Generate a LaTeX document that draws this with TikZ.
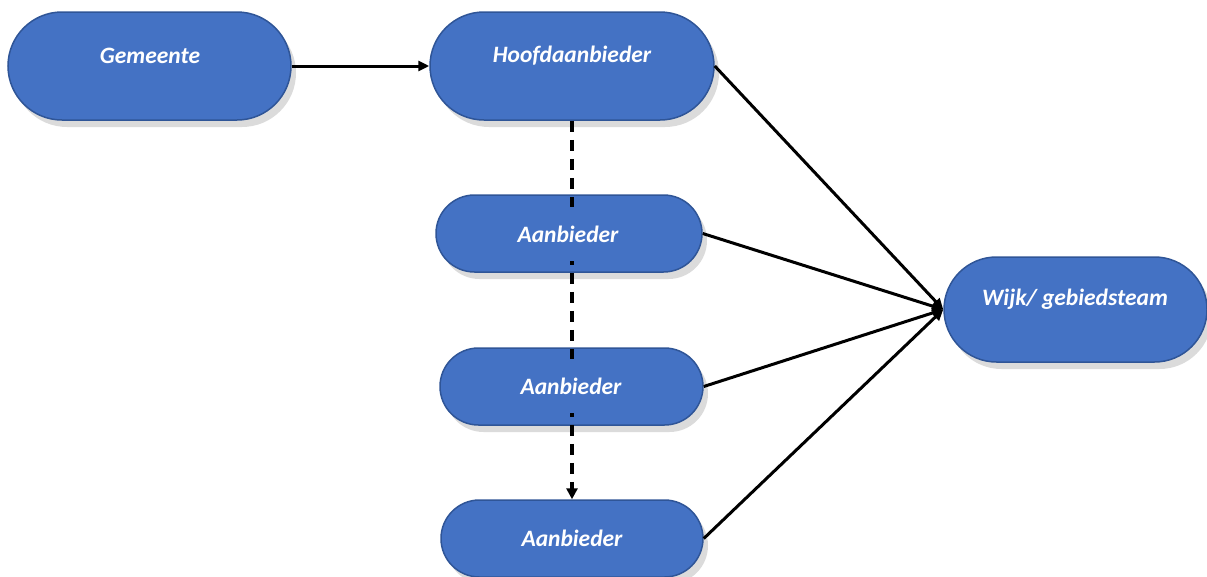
\documentclass[tikz,border=0pt]{standalone}
\usepackage{fontspec}
\setmainfont{Carlito}
\usetikzlibrary{arrows.meta,shadows}
\definecolor{nodeblue}{HTML}{4472C4}
\definecolor{edgeblue}{HTML}{2F5597}
\tikzset{
  pill/.style={rectangle, fill=nodeblue, draw=edgeblue, line width=1.5pt, inner sep=0pt,
    drop shadow={shadow xshift=5pt, shadow yshift=-7pt, fill=black, opacity=0.14}},
  lbl/.style={font=\fontsize{23.5}{28}\selectfont\bfseries\itshape, text=white, fill=nodeblue,
    inner sep=0pt, minimum width=170pt, minimum height=54pt},
  conn/.style={line width=3pt, -{Triangle[length=11pt,width=10pt]}},
  dconn/.style={line width=3.3pt, dash pattern=on 11pt off 8pt, -{Triangle[length=11pt,width=11pt]}}
}
\begin{document}
\begin{tikzpicture}[x=1pt,y=-1pt]
\useasboundingbox (0,0) rectangle (1207,576);
% shapes
\node[pill, minimum width=283pt, minimum height=108pt, rounded corners=54pt] (g) at (149.5,66) {};
\node[pill, minimum width=284pt, minimum height=108pt, rounded corners=54pt] (h) at (572,66) {};
\node[pill, minimum width=266pt, minimum height=77pt, rounded corners=38.5pt] (a1) at (569,233.5) {};
\node[pill, minimum width=263pt, minimum height=77pt, rounded corners=38.5pt] (a2) at (571.5,386.5) {};
\node[pill, minimum width=262pt, minimum height=77pt, rounded corners=38.5pt] (a3) at (572,538.5) {};
\node[pill, minimum width=263pt, minimum height=105pt, rounded corners=52.5pt] (w) at (1075.5,309.5) {};
% connectors
\draw[conn] (g.east) -- (h.west);
\draw[conn] (h.east) -- (w.west);
\draw[conn] (a1.east) -- (w.west);
\draw[conn] (a2.east) -- (w.west);
\draw[conn] (a3.east) -- (w.west);
\draw[dconn] (h.south) -- (a3.north);
% labels
\node[lbl] (gl) at (150,56) {Gemeente};
\node[lbl] (hl) at (572,56) {Hoofdaanbieder};
\node[lbl] (a1l) at (568,234) {Aanbieder};
\node[lbl] (a2l) at (571,386) {Aanbieder};
\node[lbl] (a3l) at (572,538) {Aanbieder};
\node[lbl, minimum width=200pt] (wl) at (1075,299) {Wijk/ gebiedsteam};
\end{tikzpicture}
\end{document}
